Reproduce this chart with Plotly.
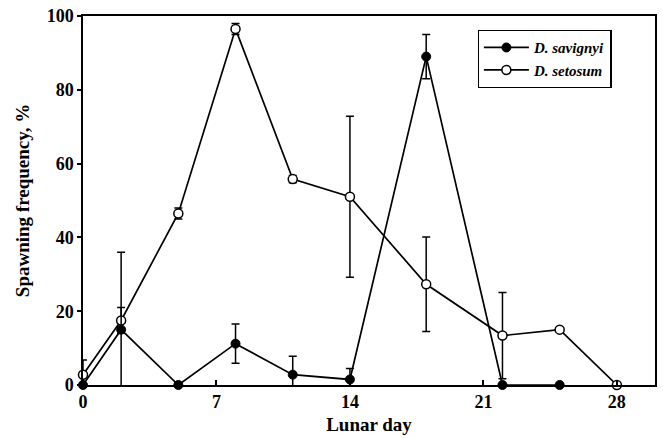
import plotly.graph_objects as go

days_sav = [0, 2, 5, 8, 11, 14, 18, 22, 25]
sav = [0, 15, 0, 11.2, 2.8, 1.5, 89, 0, 0]
sav_err = [0, 21, 0, 5.3, 5.0, 3.0, 6.0, 0, 0]

days_set = [0, 2, 5, 8, 11, 14, 18, 22, 25, 28]
setosum = [2.8, 17.5, 46.5, 96.5, 55.8, 51, 27.3, 13.4, 15, 0]
set_err = [4.0, 3.5, 1.5, 1.5, 1.0, 21.8, 12.8, 11.7, 0, 0]

x_ticks = [0, 7, 14, 21, 28]
y_ticks = [0, 20, 40, 60, 80, 100]

FONT = "Liberation Serif"

fig = go.Figure()
fig.add_trace(go.Scatter(
    x=days_set, y=setosum, name="<b><i>D. setosum</i></b>", mode="lines+markers",
    line=dict(color="black", width=1.7),
    marker=dict(symbol="circle", size=9, color="white", line=dict(color="black", width=1.5)),
    error_y=dict(type="data", array=set_err, color="black", thickness=1.5, width=4),
    cliponaxis=False,
))
fig.add_trace(go.Scatter(
    x=days_sav, y=sav, name="<b><i>D. savignyi</i></b>", mode="lines+markers",
    line=dict(color="black", width=1.7),
    marker=dict(symbol="circle", size=9, color="black", line=dict(color="black", width=1)),
    error_y=dict(type="data", array=sav_err, color="black", thickness=1.5, width=4),
    cliponaxis=False,
))

fig.update_layout(
    width=663, height=438,
    margin=dict(l=83, r=6, t=14, b=52),
    paper_bgcolor="white", plot_bgcolor="white",
    font=dict(family=FONT, color="black", size=16),
    showlegend=True,
    legend=dict(x=0.69, y=0.962, xanchor="left", yanchor="top",
                bordercolor="black", borderwidth=1.2, bgcolor="white",
                traceorder="reversed",
                font=dict(family=FONT, size=15, color="black"),
                itemwidth=45, tracegroupgap=0),
    xaxis=dict(range=[0, 30], tickvals=x_ticks, ticktext=[f"<b>{v}</b>" for v in x_ticks],
               showline=True, linecolor="black", linewidth=1.5, mirror=True,
               ticks="inside", ticklen=5, tickcolor="black", tickwidth=1.5,
               showgrid=False, zeroline=False,
               title=dict(text="<b>Lunar day</b>", font=dict(size=19), standoff=6),
               tickfont=dict(size=18)),
    yaxis=dict(range=[0, 100], tickvals=y_ticks, ticktext=[f"<b>{v}</b>" for v in y_ticks],
               showline=True, linecolor="black", linewidth=1.5, mirror=True,
               ticks="outside", ticklen=4, tickcolor="black", tickwidth=1.5,
               showgrid=False, zeroline=False,
               title=dict(text="<b>Spawning frequency, %</b>", font=dict(size=19), standoff=12),
               tickfont=dict(size=18)),
)

fig.write_html("out.html")
